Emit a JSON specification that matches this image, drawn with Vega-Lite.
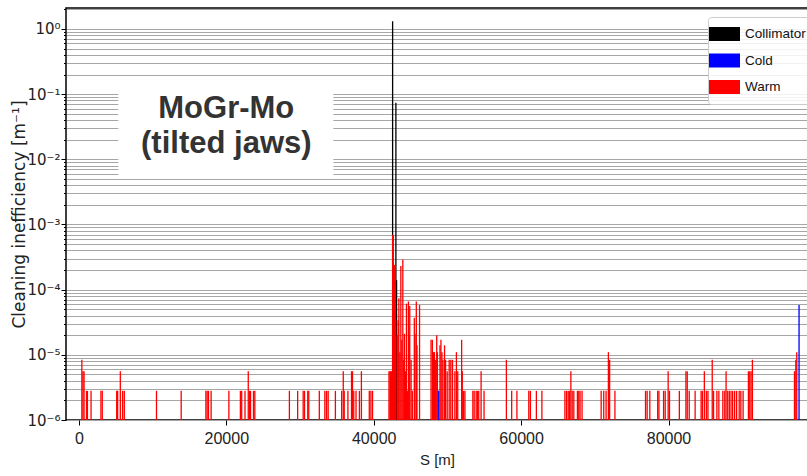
{
  "$schema": "https://vega.github.io/schema/vega-lite/v6.json",
  "width": 742,
  "height": 412,
  "autosize": "none",
  "padding": {"left": 66, "top": 8, "right": 0, "bottom": 56},
  "background": "white",
  "config": {
    "view": {"stroke": "#000000", "strokeWidth": 1.5},
    "font": "DejaVu Sans"
  },
  "datasets": {
    "loss": [
      {"s": 42565, "v": 1.31, "t": "Collimator"},
      {"s": 43010, "v": 0.074, "t": "Collimator"},
      {"s": 43100, "v": 0.00014, "t": "Collimator"},
      {"s": 400, "v": 8.4e-6, "t": "Warm"},
      {"s": 550, "v": 5.6e-6, "t": "Warm"},
      {"s": 700, "v": 5.6e-6, "t": "Warm"},
      {"s": 1030, "v": 2.8e-6, "t": "Warm"},
      {"s": 1160, "v": 2.8e-6, "t": "Warm"},
      {"s": 1650, "v": 2.8e-6, "t": "Warm"},
      {"s": 2990, "v": 2.8e-6, "t": "Warm"},
      {"s": 3170, "v": 2.8e-6, "t": "Warm"},
      {"s": 5130, "v": 2.8e-6, "t": "Warm"},
      {"s": 5260, "v": 2.8e-6, "t": "Warm"},
      {"s": 5620, "v": 5.6e-6, "t": "Warm"},
      {"s": 5930, "v": 2.8e-6, "t": "Warm"},
      {"s": 6160, "v": 2.8e-6, "t": "Warm"},
      {"s": 10530, "v": 2.8e-6, "t": "Warm"},
      {"s": 13880, "v": 2.8e-6, "t": "Warm"},
      {"s": 17230, "v": 2.8e-6, "t": "Warm"},
      {"s": 17400, "v": 2.8e-6, "t": "Warm"},
      {"s": 17580, "v": 2.8e-6, "t": "Warm"},
      {"s": 17940, "v": 2.8e-6, "t": "Warm"},
      {"s": 20350, "v": 2.8e-6, "t": "Warm"},
      {"s": 21910, "v": 2.8e-6, "t": "Warm"},
      {"s": 22090, "v": 2.8e-6, "t": "Warm"},
      {"s": 22540, "v": 2.8e-6, "t": "Warm"},
      {"s": 22980, "v": 5.6e-6, "t": "Warm"},
      {"s": 23160, "v": 2.8e-6, "t": "Warm"},
      {"s": 23290, "v": 2.8e-6, "t": "Warm"},
      {"s": 23690, "v": 2.8e-6, "t": "Warm"},
      {"s": 23870, "v": 2.8e-6, "t": "Warm"},
      {"s": 28560, "v": 2.8e-6, "t": "Warm"},
      {"s": 29680, "v": 2.8e-6, "t": "Warm"},
      {"s": 30430, "v": 2.8e-6, "t": "Warm"},
      {"s": 30610, "v": 2.8e-6, "t": "Warm"},
      {"s": 31050, "v": 2.8e-6, "t": "Warm"},
      {"s": 31190, "v": 2.8e-6, "t": "Warm"},
      {"s": 32620, "v": 2.8e-6, "t": "Warm"},
      {"s": 33370, "v": 2.8e-6, "t": "Warm"},
      {"s": 33600, "v": 2.8e-6, "t": "Warm"},
      {"s": 33820, "v": 2.8e-6, "t": "Warm"},
      {"s": 34800, "v": 2.8e-6, "t": "Warm"},
      {"s": 35650, "v": 2.8e-6, "t": "Warm"},
      {"s": 35870, "v": 5.6e-6, "t": "Warm"},
      {"s": 36000, "v": 2.8e-6, "t": "Warm"},
      {"s": 36500, "v": 2.8e-6, "t": "Warm"},
      {"s": 36990, "v": 5.6e-6, "t": "Warm"},
      {"s": 37120, "v": 5.6e-6, "t": "Warm"},
      {"s": 37290, "v": 2.8e-6, "t": "Warm"},
      {"s": 37600, "v": 2.8e-6, "t": "Warm"},
      {"s": 38060, "v": 2.8e-6, "t": "Warm"},
      {"s": 38330, "v": 5.6e-6, "t": "Warm"},
      {"s": 39400, "v": 2.8e-6, "t": "Warm"},
      {"s": 39620, "v": 2.8e-6, "t": "Warm"},
      {"s": 39840, "v": 2.8e-6, "t": "Warm"},
      {"s": 42070, "v": 5.6e-6, "t": "Warm"},
      {"s": 42200, "v": 5.6e-6, "t": "Warm"},
      {"s": 42300, "v": 5.6e-6, "t": "Warm"},
      {"s": 42430, "v": 5.6e-6, "t": "Warm"},
      {"s": 42570, "v": 0.00069, "t": "Warm"},
      {"s": 42660, "v": 0.00069, "t": "Warm"},
      {"s": 42750, "v": 0.00024, "t": "Warm"},
      {"s": 42830, "v": 0.00024, "t": "Warm"},
      {"s": 42920, "v": 0.00024, "t": "Warm"},
      {"s": 42990, "v": 3.4e-5, "t": "Warm"},
      {"s": 43190, "v": 2.0e-5, "t": "Warm"},
      {"s": 43320, "v": 3.4e-5, "t": "Warm"},
      {"s": 43410, "v": 7.4e-5, "t": "Warm"},
      {"s": 43545, "v": 1.1e-5, "t": "Warm"},
      {"s": 43680, "v": 0.00023, "t": "Warm"},
      {"s": 43815, "v": 1.7e-5, "t": "Warm"},
      {"s": 43950, "v": 0.00029, "t": "Warm"},
      {"s": 44080, "v": 8.4e-6, "t": "Warm"},
      {"s": 44170, "v": 2.1e-5, "t": "Warm"},
      {"s": 44300, "v": 5.6e-6, "t": "Warm"},
      {"s": 44440, "v": 6.1e-5, "t": "Warm"},
      {"s": 44570, "v": 2.8e-6, "t": "Warm"},
      {"s": 44710, "v": 6.6e-5, "t": "Warm"},
      {"s": 44800, "v": 2.1e-5, "t": "Warm"},
      {"s": 44890, "v": 5.6e-5, "t": "Warm"},
      {"s": 45070, "v": 8.4e-6, "t": "Warm"},
      {"s": 45240, "v": 2.8e-6, "t": "Warm"},
      {"s": 45510, "v": 3.7e-5, "t": "Warm"},
      {"s": 45600, "v": 2.1e-5, "t": "Warm"},
      {"s": 45780, "v": 6.6e-5, "t": "Warm"},
      {"s": 45870, "v": 1.4e-5, "t": "Warm"},
      {"s": 46220, "v": 5.8e-5, "t": "Warm"},
      {"s": 47780, "v": 1.7e-5, "t": "Warm"},
      {"s": 47960, "v": 1.7e-5, "t": "Warm"},
      {"s": 48100, "v": 1.1e-5, "t": "Warm"},
      {"s": 48230, "v": 1.1e-5, "t": "Warm"},
      {"s": 48370, "v": 8.4e-6, "t": "Warm"},
      {"s": 48550, "v": 2.0e-5, "t": "Warm"},
      {"s": 48640, "v": 1.1e-5, "t": "Warm"},
      {"s": 48990, "v": 1.4e-5, "t": "Warm"},
      {"s": 49120, "v": 1.7e-5, "t": "Warm"},
      {"s": 49260, "v": 1.1e-5, "t": "Warm"},
      {"s": 49390, "v": 8.4e-6, "t": "Warm"},
      {"s": 49610, "v": 1.4e-5, "t": "Warm"},
      {"s": 49750, "v": 8.4e-6, "t": "Warm"},
      {"s": 49970, "v": 5.6e-6, "t": "Warm"},
      {"s": 50240, "v": 8.4e-6, "t": "Warm"},
      {"s": 50460, "v": 8.4e-6, "t": "Warm"},
      {"s": 50690, "v": 8.4e-6, "t": "Warm"},
      {"s": 51010, "v": 5.6e-6, "t": "Warm"},
      {"s": 51220, "v": 1.1e-5, "t": "Warm"},
      {"s": 51400, "v": 5.6e-6, "t": "Warm"},
      {"s": 51930, "v": 1.7e-5, "t": "Warm"},
      {"s": 52020, "v": 5.6e-6, "t": "Warm"},
      {"s": 52200, "v": 2.8e-6, "t": "Warm"},
      {"s": 52380, "v": 2.8e-6, "t": "Warm"},
      {"s": 53450, "v": 2.8e-6, "t": "Warm"},
      {"s": 53630, "v": 2.8e-6, "t": "Warm"},
      {"s": 53900, "v": 2.8e-6, "t": "Warm"},
      {"s": 54080, "v": 2.8e-6, "t": "Warm"},
      {"s": 54250, "v": 2.8e-6, "t": "Warm"},
      {"s": 54570, "v": 5.6e-6, "t": "Warm"},
      {"s": 54970, "v": 2.8e-6, "t": "Warm"},
      {"s": 58000, "v": 8.4e-6, "t": "Warm"},
      {"s": 58720, "v": 2.8e-6, "t": "Warm"},
      {"s": 59430, "v": 2.8e-6, "t": "Warm"},
      {"s": 61040, "v": 2.8e-6, "t": "Warm"},
      {"s": 61260, "v": 2.8e-6, "t": "Warm"},
      {"s": 62070, "v": 2.8e-6, "t": "Warm"},
      {"s": 62820, "v": 2.8e-6, "t": "Warm"},
      {"s": 65940, "v": 2.8e-6, "t": "Warm"},
      {"s": 66170, "v": 2.8e-6, "t": "Warm"},
      {"s": 66390, "v": 2.8e-6, "t": "Warm"},
      {"s": 66570, "v": 2.8e-6, "t": "Warm"},
      {"s": 66750, "v": 5.6e-6, "t": "Warm"},
      {"s": 66930, "v": 2.8e-6, "t": "Warm"},
      {"s": 67150, "v": 2.8e-6, "t": "Warm"},
      {"s": 67640, "v": 2.8e-6, "t": "Warm"},
      {"s": 67820, "v": 2.8e-6, "t": "Warm"},
      {"s": 68000, "v": 2.8e-6, "t": "Warm"},
      {"s": 68270, "v": 2.8e-6, "t": "Warm"},
      {"s": 70860, "v": 2.8e-6, "t": "Warm"},
      {"s": 71210, "v": 2.8e-6, "t": "Warm"},
      {"s": 71530, "v": 2.8e-6, "t": "Warm"},
      {"s": 71840, "v": 1.1e-5, "t": "Warm"},
      {"s": 72010, "v": 8.4e-6, "t": "Warm"},
      {"s": 72730, "v": 2.8e-6, "t": "Warm"},
      {"s": 76880, "v": 2.8e-6, "t": "Warm"},
      {"s": 77100, "v": 2.8e-6, "t": "Warm"},
      {"s": 77460, "v": 2.8e-6, "t": "Warm"},
      {"s": 78530, "v": 2.8e-6, "t": "Warm"},
      {"s": 78700, "v": 2.8e-6, "t": "Warm"},
      {"s": 79330, "v": 2.8e-6, "t": "Warm"},
      {"s": 79550, "v": 2.8e-6, "t": "Warm"},
      {"s": 79950, "v": 5.6e-6, "t": "Warm"},
      {"s": 80130, "v": 2.8e-6, "t": "Warm"},
      {"s": 81470, "v": 2.8e-6, "t": "Warm"},
      {"s": 82360, "v": 5.6e-6, "t": "Warm"},
      {"s": 82540, "v": 5.6e-6, "t": "Warm"},
      {"s": 82810, "v": 2.8e-6, "t": "Warm"},
      {"s": 83610, "v": 2.8e-6, "t": "Warm"},
      {"s": 84420, "v": 2.8e-6, "t": "Warm"},
      {"s": 84590, "v": 2.8e-6, "t": "Warm"},
      {"s": 84860, "v": 5.6e-6, "t": "Warm"},
      {"s": 85130, "v": 2.8e-6, "t": "Warm"},
      {"s": 85350, "v": 2.8e-6, "t": "Warm"},
      {"s": 85930, "v": 8.4e-6, "t": "Warm"},
      {"s": 86110, "v": 2.8e-6, "t": "Warm"},
      {"s": 86560, "v": 2.8e-6, "t": "Warm"},
      {"s": 86830, "v": 2.8e-6, "t": "Warm"},
      {"s": 87370, "v": 2.8e-6, "t": "Warm"},
      {"s": 87630, "v": 2.8e-6, "t": "Warm"},
      {"s": 87810, "v": 5.6e-6, "t": "Warm"},
      {"s": 88030, "v": 2.8e-6, "t": "Warm"},
      {"s": 88250, "v": 2.8e-6, "t": "Warm"},
      {"s": 88480, "v": 2.8e-6, "t": "Warm"},
      {"s": 88700, "v": 2.8e-6, "t": "Warm"},
      {"s": 88970, "v": 2.8e-6, "t": "Warm"},
      {"s": 89240, "v": 2.8e-6, "t": "Warm"},
      {"s": 89590, "v": 2.8e-6, "t": "Warm"},
      {"s": 89810, "v": 2.8e-6, "t": "Warm"},
      {"s": 90120, "v": 2.8e-6, "t": "Warm"},
      {"s": 90840, "v": 5.6e-6, "t": "Warm"},
      {"s": 91020, "v": 5.6e-6, "t": "Warm"},
      {"s": 91200, "v": 5.6e-6, "t": "Warm"},
      {"s": 91380, "v": 8.4e-6, "t": "Warm"},
      {"s": 97090, "v": 5.6e-6, "t": "Warm"},
      {"s": 97270, "v": 8.4e-6, "t": "Warm"},
      {"s": 97400, "v": 1.1e-5, "t": "Warm"},
      {"s": 48820, "v": 2.8e-6, "t": "Cold"},
      {"s": 97710, "v": 5.8e-5, "t": "Cold"}
    ]
  },
  "layer": [
    {
      "data": {"name": "loss"},
      "mark": {"type": "bar", "width": 1.3},
      "encoding": {
        "x": {
          "field": "s",
          "type": "quantitative",
          "scale": {"domain": [-1071, 98246], "nice": false, "zero": false},
          "axis": {
            "title": "S [m]",
            "values": [0, 20000, 40000, 60000, 80000],
            "format": "d",
            "grid": false,
            "domain": false,
            "tickColor": "#000000",
            "tickSize": 5,
            "tickWidth": 1,
            "labelFont": "Liberation Sans",
            "labelFontSize": 16,
            "labelColor": "#222222",
            "labelPadding": 5,
            "labelFlush": false,
            "titleFont": "Liberation Sans",
            "titleFontSize": 15,
            "titleFontWeight": "normal",
            "titleColor": "#222222",
            "titlePadding": 6
          }
        },
        "y": {
          "field": "v",
          "type": "quantitative",
          "scale": {"type": "log", "domain": [1e-6, 2.1], "nice": false},
          "axis": {
            "title": "Cleaning inefficiency [m⁻¹]",
            "values": [1e-6, 2e-6, 3e-6, 4e-6, 5e-6, 6e-6, 7e-6, 8e-6, 9e-6, 1e-5, 2e-5, 3e-5, 4e-5, 5e-5, 6e-5, 7e-5, 8e-5, 9e-5, 1e-4, 2e-4, 3e-4, 4e-4, 5e-4, 6e-4, 7e-4, 8e-4, 9e-4, 1e-3, 2e-3, 3e-3, 4e-3, 5e-3, 6e-3, 7e-3, 8e-3, 9e-3, 1e-2, 2e-2, 3e-2, 4e-2, 5e-2, 6e-2, 7e-2, 8e-2, 9e-2, 0.1, 0.2, 0.3, 0.4, 0.5, 0.6, 0.7, 0.8, 0.9, 1, 2],
            "labelExpr": "abs(log(datum.value)/LN10 - round(log(datum.value)/LN10)) < 0.001 ? ['10⁰','10⁻¹','10⁻²','10⁻³','10⁻⁴','10⁻⁵','10⁻⁶'][-round(log(datum.value)/LN10)] : ''",
            "labelOverlap": false,
            "grid": true,
            "gridColor": "#a6a6a6",
            "gridWidth": 1.2,
            "domain": false,
            "tickColor": "#000000",
            "tickWidth": 1,
            "tickSize": {"condition": {"test": "abs(log(datum.value)/LN10 - round(log(datum.value)/LN10)) < 0.001", "value": 5}, "value": 2.5},
            "labelFont": "DejaVu Sans",
            "labelFontSize": 15,
            "labelColor": "#222222",
            "labelPadding": 1,
            "titleFont": "DejaVu Sans",
            "titleFontSize": 17,
            "titleFontWeight": "normal",
            "titleColor": "#222222",
            "titlePadding": -2
          }
        },
        "y2": {"datum": 1e-6},
        "color": {
          "field": "t",
          "type": "nominal",
          "scale": {"domain": ["Collimator", "Cold", "Warm"], "range": ["#000000", "#0000ff", "#ff0000"]},
          "legend": {
            "title": null,
            "orient": "none",
            "legendX": 642,
            "legendY": 9,
            "padding": 9.5,
            "strokeColor": "#cccccc",
            "fillColor": "rgba(255,255,255,0.85)",
            "cornerRadius": 3,
            "symbolType": "M-2.133,-0.933H2V0.933H-2.133Z",
            "symbolSize": 225,
            "symbolStrokeWidth": 0,
            "symbolOpacity": 1,
            "labelFont": "Liberation Sans",
            "labelFontSize": 13.5,
            "labelColor": "#111111",
            "labelOffset": 12.5,
            "rowPadding": 11.5
          }
        }
      }
    },
    {
      "data": {"values": [{}]},
      "mark": {"type": "rect", "fill": "#ffffff"},
      "encoding": {
        "x": {"datum": 5354},
        "x2": {"datum": 34533},
        "y": {"datum": 0.143},
        "y2": {"datum": 0.00575}
      }
    },
    {
      "data": {"values": [{}]},
      "mark": {"type": "text", "text": "MoGr-Mo", "font": "Liberation Sans", "fontWeight": "bold", "fontSize": 31, "color": "#333333", "align": "center", "baseline": "alphabetic"},
      "encoding": {
        "x": {"datum": 20000},
        "y": {"datum": 0.0431}
      }
    },
    {
      "data": {"values": [{}]},
      "mark": {"type": "text", "text": "(tilted jaws)", "font": "Liberation Sans", "fontWeight": "bold", "fontSize": 31, "color": "#333333", "align": "center", "baseline": "alphabetic"},
      "encoding": {
        "x": {"datum": 20000},
        "y": {"datum": 0.01254}
      }
    }
  ]
}
